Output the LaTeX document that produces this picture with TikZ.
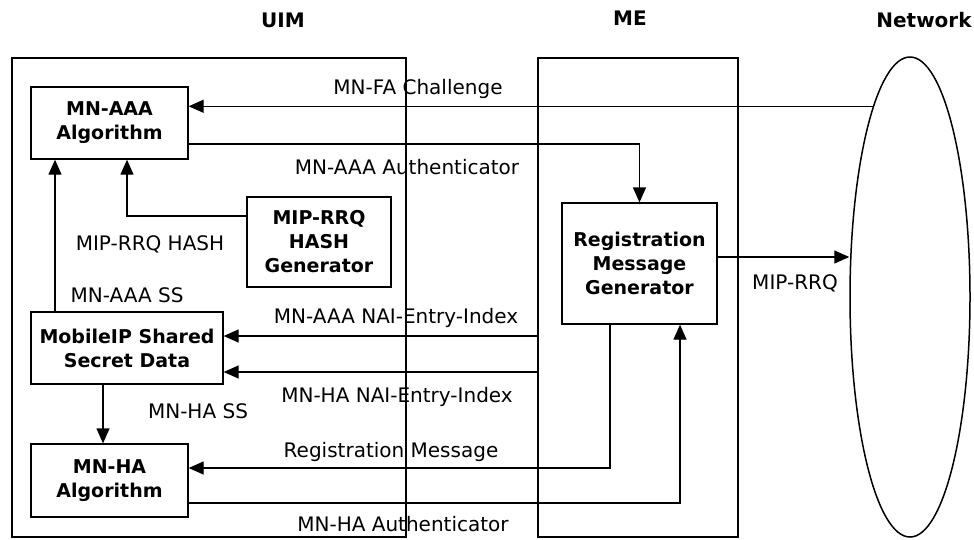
\documentclass[tikz,border=0pt]{standalone}
\usepackage{fontspec}
\setmainfont{DejaVu Sans}
\usetikzlibrary{positioning,arrows.meta,shapes.geometric}

\tikzset{
  blk/.style={draw, line width=1.3pt, align=center, inner sep=0pt,
    font=\bfseries\fontsize{19}{24}\selectfont},
  frame/.style={draw, line width=1.3pt, inner sep=0pt},
  sig/.style={line width=1.3pt, -{Triangle[length=15pt,width=13pt]}},
  lbl/.style={inner sep=0pt, font=\fontsize{20}{24}\selectfont},
  ttl/.style={inner sep=0pt, font=\bfseries\fontsize{20}{24}\selectfont},
}

\begin{document}
\begin{tikzpicture}[x=1pt, y=-1pt]
    \useasboundingbox (0,0) rectangle (974,539);

    % the three parts
    \node[frame, minimum width=394pt, minimum height=479pt] (uim) at (209,297.5) {};
    \node[frame, minimum width=200pt, minimum height=479pt] (me) at (638,297.5) {};
    \node[frame, ellipse, line width=1.5pt, minimum width=120pt, minimum height=480pt] (net) at (910,297) {};

    \node[ttl] (tuim) at (283,20) {UIM};
    \node[ttl] (tme) at (630,18) {ME};
    \node[ttl] (tnet) at (924,20) {Network};

    % blocks
    \node[blk, minimum width=157pt, minimum height=72pt] (aaa) at (109.5,123) {MN-AAA\\Algorithm};
    \node[blk, minimum width=144pt, minimum height=90pt] (hash) at (319,242) {MIP-RRQ\\HASH\\Generator};
    \node[blk, minimum width=192pt, minimum height=72pt] (ssd) at (127,348) {MobileIP Shared\\Secret Data};
    \node[blk, minimum width=157pt, minimum height=73pt] (mha) at (109.5,480.5) {MN-HA\\Algorithm};
    \node[blk, minimum width=155pt, minimum height=121pt] (rmg) at (639.5,263.5) {Registration\\Message\\Generator};

    \coordinate (naiA) at ([yshift=12pt]ssd.east);
    \coordinate (naiH) at ([yshift=-24pt]ssd.east);

    % signals
    \draw[sig] (net.101) -- (aaa.east |- net.101);
    \draw[sig] ([yshift=-21pt]aaa.east) -| (rmg.north);
    \draw[sig] ([yshift=26pt]hash.west) -| ([xshift=17.5pt]aaa.south);
    \draw[sig] ([xshift=-72pt]ssd.north) -- ([xshift=-72pt]ssd.north |- aaa.south);
    \draw[sig] (me.west |- naiA) -- (naiA);
    \draw[sig] (me.west |- naiH) -- (naiH);
    \draw[sig] ([xshift=-24pt]ssd.south) -- ([xshift=-24pt]ssd.south |- mha.north);
    \draw[sig] ([xshift=-29.5pt]rmg.south) |- ([yshift=12.5pt]mha.east);
    \draw[sig] ([yshift=-22.5pt]mha.east) -| ([xshift=40.5pt]rmg.south);
    \draw[sig] ([yshift=6.5pt]rmg.east) -- ([yshift=6.5pt]rmg.east -| net.west);

    % labels
    \node[lbl] (lchal) at (418,89) {MN-FA Challenge};
    \node[lbl] (laut) at (407,167) {MN-AAA Authenticator};
    \node[lbl] (lhash) at (150,244) {MIP-RRQ HASH};
    \node[lbl] (lass) at (127,295) {MN-AAA SS};
    \node[lbl] (lnaia) at (396,318) {MN-AAA NAI-Entry-Index};
    \node[lbl] (lnaih) at (397,397) {MN-HA NAI-Entry-Index};
    \node[lbl] (lhss) at (198,411) {MN-HA SS};
    \node[lbl] (lreg) at (391,452) {Registration Message};
    \node[lbl] (lhaut) at (403,524) {MN-HA Authenticator};
    \node[lbl] (lrrq) at (795,283) {MIP-RRQ};
\end{tikzpicture}
\end{document}
